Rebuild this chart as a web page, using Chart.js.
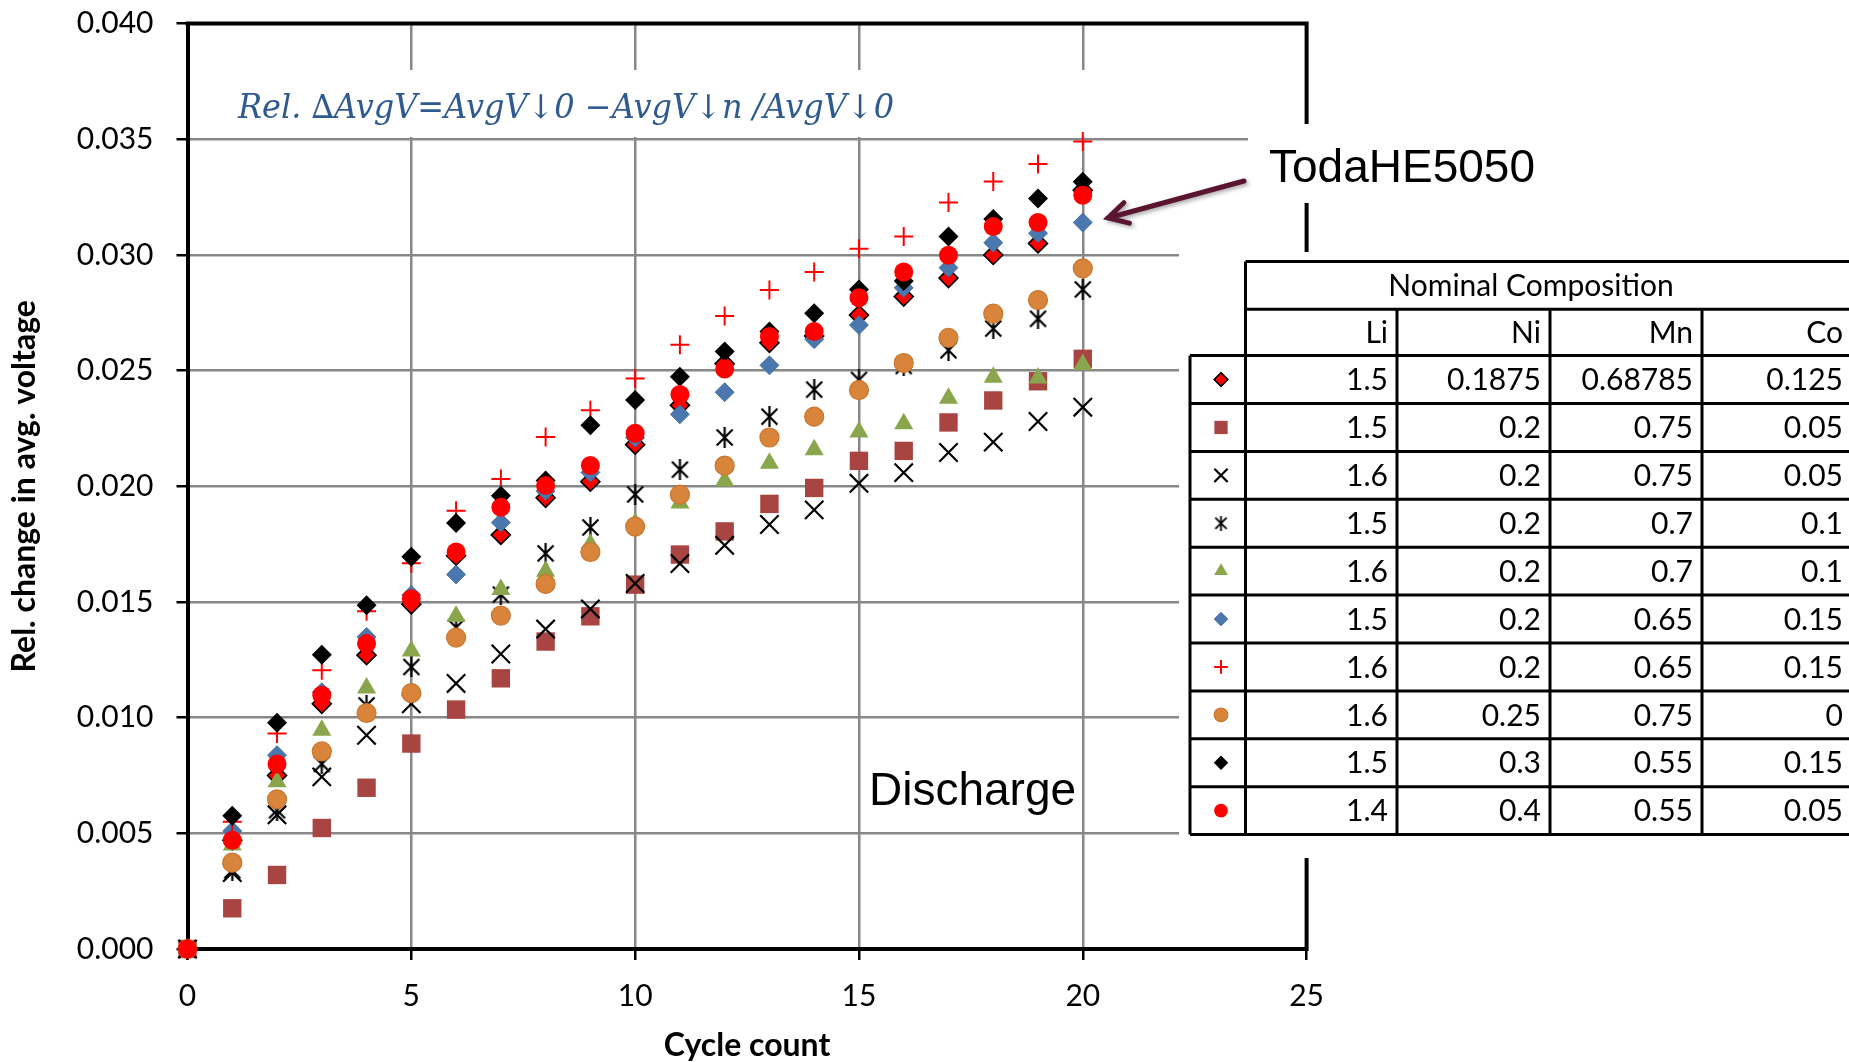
<!DOCTYPE html>
<html>
<head>
<meta charset="utf-8">
<script src="https://cdn.jsdelivr.net/npm/chart.js@4.4.1/dist/chart.umd.min.js"></script>
<style>
  html, body { margin: 0; padding: 0; background: #fff; }
  #wrap { width: 1849px; height: 1062px; }
</style>
</head>
<body>
<div id="wrap"><canvas id="chart" width="1849" height="1062"></canvas></div>
<script>
// cycle numbers (x)
const cycles = [0,1,2,3,4,5,6,7,8,9,10,11,12,13,14,15,16,17,18,19,20];

// rel. change in avg. voltage, one array per composition (table row order)
const redDiamond    = [0,0.0047,0.0075,0.0106,0.0127,0.0149,0.0170,0.0179,0.0195,0.0202,0.0218,0.0235,0.0253,0.0262,0.0265,0.0274,0.0282,0.0290,0.0300,0.0305,0.0328];
const brownSquare   = [0,0.00176,0.0032,0.00523,0.00697,0.00888,0.01035,0.0117,0.01329,0.01438,0.01575,0.01705,0.01805,0.01924,0.01993,0.0211,0.02153,0.02276,0.02371,0.02454,0.02551];
const blackX        = [0,0.0033,0.0058,0.00744,0.00924,0.0106,0.01148,0.01275,0.01383,0.0147,0.0158,0.01666,0.01745,0.01835,0.01898,0.02013,0.02059,0.02146,0.02191,0.0228,0.02342];
const blackStar     = [0,0.0034,0.0060,0.0080,0.01053,0.01219,0.0139,0.01532,0.0171,0.01822,0.01965,0.02072,0.02211,0.02301,0.02418,0.0246,0.0252,0.02588,0.02682,0.02724,0.02851];
const greenTriangle = [0,0.0045,0.00723,0.00945,0.01128,0.01288,0.01438,0.01554,0.01633,0.01749,0.0184,0.01928,0.02024,0.0210,0.02158,0.02235,0.0227,0.02381,0.02471,0.02468,0.02526];
const blueDiamond   = [0,0.0051,0.00838,0.0111,0.01349,0.0153,0.01619,0.01843,0.0198,0.0206,0.0221,0.02311,0.02407,0.02523,0.02636,0.02697,0.02858,0.02945,0.03053,0.03094,0.0314];
const redPlus       = [0,0.0055,0.00932,0.01205,0.0146,0.01667,0.01894,0.02032,0.02213,0.02329,0.02466,0.02612,0.02736,0.02848,0.02926,0.03027,0.0308,0.03227,0.03317,0.03393,0.0349];
const orangeCircle  = [0,0.00373,0.00647,0.00854,0.0102,0.01106,0.01346,0.01441,0.01578,0.01716,0.01826,0.01964,0.02089,0.02211,0.02301,0.02416,0.02533,0.02642,0.02746,0.02805,0.02942];
const blackDiamond  = [0,0.00576,0.00978,0.01272,0.01486,0.01696,0.01841,0.01959,0.02025,0.02264,0.02373,0.02473,0.02583,0.02669,0.02748,0.02851,0.02887,0.0308,0.03155,0.03244,0.03316];
const redCircle     = [0,0.0047,0.0080,0.01097,0.0132,0.01514,0.01716,0.01909,0.02003,0.0209,0.02229,0.02397,0.02507,0.02648,0.02669,0.02815,0.02926,0.02999,0.03123,0.0314,0.03258];

// nominal composition table
const liVals = ['1.5','1.5','1.6','1.5','1.6','1.5','1.6','1.6','1.5','1.4'];
const niVals = ['0.1875','0.2','0.2','0.2','0.2','0.2','0.2','0.25','0.3','0.4'];
const mnVals = ['0.68785','0.75','0.75','0.7','0.7','0.65','0.65','0.75','0.55','0.55'];
const coVals = ['0.125','0.05','0.05','0.1','0.1','0.15','0.15','0','0.15','0.05'];
const colHeads = ['Li','Ni','Mn','Co'];

const xTicks = [0,5,10,15,20,25];
const yMax = 0.04, yStep = 0.005;

// asterisk marker (x with a vertical bar), not built into Chart.js
function makeAsterisk(size, lw) {
    const c = document.createElement('canvas');
    c.width = size; c.height = size;
    const g = c.getContext('2d');
    g.strokeStyle = '#000';
    g.lineWidth = lw;
    const a = size * 0.12, b = size * 0.88;
    g.beginPath();
    g.moveTo(a, a); g.lineTo(b, b);
    g.moveTo(b, a); g.lineTo(a, b);
    g.moveTo(size / 2, 0); g.lineTo(size / 2, size);
    g.stroke();
    return c;
}
const starBig = makeAsterisk(21, 2.2);
const starSmall = makeAsterisk(15, 1.8);

const seriesData = [redDiamond, brownSquare, blackX, blackStar, greenTriangle, blueDiamond, redPlus, orangeCircle, blackDiamond, redCircle];
const markers = [
    { style: 'rectRot',  r: 9.5,  bg: '#FF0000', border: '#000',    bw: 1.6 },
    { style: 'rect',     r: 13,   bg: '#A84441', border: '#A84441', bw: 0 },
    { style: 'crossRot', r: 13,   bg: '#000',    border: '#000',    bw: 2.2 },
    { style: 'star',     r: 10.5, bg: '#000',    border: '#000',    bw: 2.2 },
    { style: 'triangle', r: 11,   bg: '#8AA64C', border: '#8AA64C', bw: 0 },
    { style: 'rectRot',  r: 9.5,  bg: '#4A78AE', border: '#3F6898', bw: 0.8 },
    { style: 'cross',    r: 9.5,  bg: '#FF0000', border: '#FF0000', bw: 2 },
    { style: 'circle',   r: 9.5,  bg: '#D9843B', border: '#C9762F', bw: 1.2 },
    { style: 'rectRot',  r: 10,   bg: '#000',    border: '#000',    bw: 0 },
    { style: 'circle',   r: 9.5,  bg: '#FF0000', border: '#FF0000', bw: 0 }
];

const datasets = seriesData.map((vals, i) => {
    const m = markers[i];
    return {
        label: liVals[i] + '/' + niVals[i] + '/' + mnVals[i] + '/' + coVals[i],
        data: vals.map((v, j) => ({ x: cycles[j], y: v })),
        pointStyle: m.style === 'star' ? starBig : m.style,
        pointRadius: m.r,
        pointBackgroundColor: m.bg,
        pointBorderColor: m.border,
        pointBorderWidth: m.bw,
        showLine: false,
        clip: false,
        order: seriesData.length - i   // later rows drawn on top, as in the original
    };
});

function drawIcon(ctx, m, x, y, k) {
    const r = m.r * k;
    ctx.save();
    ctx.fillStyle = m.bg;
    ctx.strokeStyle = m.border;
    ctx.lineWidth = m.bw;
    if (m.style === 'star') {
        ctx.drawImage(starSmall, x - 7.5, y - 7.5, 15, 15);
        ctx.restore();
        return;
    }
    ctx.beginPath();
    let fill = true;
    if (m.style === 'circle') {
        ctx.arc(x, y, r, 0, Math.PI * 2);
    } else if (m.style === 'rectRot') {
        ctx.moveTo(x - r, y); ctx.lineTo(x, y - r); ctx.lineTo(x + r, y); ctx.lineTo(x, y + r); ctx.closePath();
    } else if (m.style === 'rect') {
        const h = r * Math.SQRT1_2;
        ctx.rect(x - h, y - h, 2 * h, 2 * h);
    } else if (m.style === 'triangle') {
        ctx.moveTo(x, y - r); ctx.lineTo(x + r * 0.866, y + r / 2); ctx.lineTo(x - r * 0.866, y + r / 2); ctx.closePath();
    } else if (m.style === 'cross') {
        fill = false;
        ctx.moveTo(x - r, y); ctx.lineTo(x + r, y); ctx.moveTo(x, y - r); ctx.lineTo(x, y + r);
    } else if (m.style === 'crossRot') {
        fill = false;
        const h = r * Math.SQRT1_2;
        ctx.moveTo(x - h, y - h); ctx.lineTo(x + h, y + h); ctx.moveTo(x + h, y - h); ctx.lineTo(x - h, y + h);
    }
    if (fill) ctx.fill();
    if (m.bw > 0) ctx.stroke();
    ctx.restore();
}

const overlay = {
    id: 'overlay',
    beforeDatasetsDraw(chart) {
        const ctx = chart.ctx, a = chart.chartArea;
        ctx.save();
        // top and right frame of the plot area
        ctx.strokeStyle = '#000';
        ctx.lineWidth = 4;
        ctx.beginPath();
        ctx.moveTo(a.left - 2, a.top);
        ctx.lineTo(a.right, a.top);
        ctx.lineTo(a.right, a.bottom + 2);
        ctx.stroke();
        // white text boxes laid over the plot
        ctx.fillStyle = '#fff';
        ctx.fillRect(200, 70, 895, 67);
        ctx.fillRect(1248, 124, 601, 79);
        ctx.fillRect(1179, 252, 670, 606);
        ctx.restore();
    },
    afterDraw(chart) {
        const ctx = chart.ctx;
        ctx.save();

        // formula
        const formula = 'Rel. \u2206AvgV=AvgV\u21930 \u2212AvgV\u2193n /AvgV\u21930';
        ctx.font = 'italic 33px "DejaVu Serif"';
        ctx.fillStyle = '#2E5A8F';
        ctx.textBaseline = 'alphabetic';
        const fw = ctx.measureText(formula).width;
        ctx.save();
        ctx.translate(238, 118);
        ctx.scale(656 / fw, 1);
        ctx.fillText(formula, 0, 0);
        ctx.restore();

        // labels
        ctx.fillStyle = '#000';
        ctx.font = '46px "Liberation Sans", Arial';
        ctx.fillText('TodaHE5050', 1269, 182);
        ctx.fillText('Discharge', 869, 805);

        // arrow
        ctx.save();
        ctx.strokeStyle = '#5A1530';
        ctx.lineWidth = 5;
        ctx.lineCap = 'round';
        ctx.shadowColor = 'rgba(0,0,0,0.35)';
        ctx.shadowBlur = 4;
        ctx.shadowOffsetX = 2;
        ctx.shadowOffsetY = 2;
        const x1 = 1244, y1 = 181, x2 = 1108, y2 = 218;
        const ang = Math.atan2(y2 - y1, x2 - x1);
        ctx.beginPath();
        ctx.moveTo(x1, y1); ctx.lineTo(x2, y2);
        ctx.moveTo(x2 - 22 * Math.cos(ang - 0.5), y2 - 22 * Math.sin(ang - 0.5));
        ctx.lineTo(x2, y2);
        ctx.lineTo(x2 - 22 * Math.cos(ang + 0.5), y2 - 22 * Math.sin(ang + 0.5));
        ctx.stroke();
        ctx.restore();

        // composition table
        const top = 261.5, h1 = 309.3, h2 = 355.6, rowH = 47.9;
        const colX = [1190, 1245.5, 1397, 1550, 1702, 1852];
        const bottom = h2 + rowH * liVals.length;
        ctx.strokeStyle = '#000';
        ctx.lineWidth = 3;
        ctx.beginPath();
        ctx.moveTo(colX[1], top); ctx.lineTo(1860, top);
        ctx.moveTo(colX[1], h1); ctx.lineTo(1860, h1);
        for (let i = 0; i <= liVals.length; i++) {
            const y = h2 + rowH * i;
            ctx.moveTo(colX[0], y); ctx.lineTo(1860, y);
        }
        ctx.moveTo(colX[0], h2); ctx.lineTo(colX[0], bottom);
        ctx.moveTo(colX[1], top); ctx.lineTo(colX[1], bottom);
        for (let c = 2; c <= 5; c++) {
            ctx.moveTo(colX[c], h1); ctx.lineTo(colX[c], bottom);
        }
        ctx.stroke();

        ctx.font = '30px Lato';
        ctx.fillStyle = '#000';
        ctx.textBaseline = 'middle';
        ctx.textAlign = 'center';
        ctx.fillText('Nominal Composition', 1531, (top + h1) / 2 + 1);
        ctx.textAlign = 'right';
        colHeads.forEach((t, c) => ctx.fillText(t, colX[c + 2] - 9, (h1 + h2) / 2 + 1));
        const cols = [liVals, niVals, mnVals, coVals];
        for (let i = 0; i < liVals.length; i++) {
            const yc = h2 + rowH * (i + 0.5) + 1;
            cols.forEach((arr, c) => ctx.fillText(arr[i], colX[c + 2] - 9, yc));
            drawIcon(ctx, markers[i], 1221, yc - 1, 0.72);
        }
        ctx.restore();
    }
};

const gridColor = '#878787';

new Chart(document.getElementById('chart'), {
    type: 'scatter',
    data: { datasets: datasets },
    options: {
        responsive: false,
        animation: false,
        layout: { padding: { left: 0, right: 542.4, top: 23.6, bottom: 0 } },
        plugins: {
            legend: { display: false },
            tooltip: { enabled: false }
        },
        scales: {
            x: {
                type: 'linear',
                min: xTicks[0],
                max: xTicks[xTicks.length - 1],
                afterBuildTicks: (scale) => { scale.ticks = xTicks.map(v => ({ value: v })); },
                afterFit: (scale) => { scale.height = 113; },
                ticks: { color: '#000', font: { family: 'Lato', size: 30 }, padding: 18 },
                grid: { color: gridColor, lineWidth: 2.5, tickColor: '#000', tickLength: 11, tickWidth: 2.5 },
                border: { color: '#000', width: 4 },
                title: {
                    display: true, text: 'Cycle count', color: '#000',
                    font: { family: 'Lato', size: 32, weight: 'bold' },
                    padding: { top: 0, bottom: -3 }
                }
            },
            y: {
                min: 0,
                max: yMax,
                ticks: {
                    stepSize: yStep,
                    color: '#000',
                    font: { family: 'Lato', size: 30 },
                    padding: 23,
                    callback: (v) => v.toFixed(3)
                },
                afterFit: (scale) => {
                    scale.width = 187.5;
                    scale.paddingTop = 0;
                    scale.paddingBottom = 0;
                },
                grid: { color: gridColor, lineWidth: 2.5, tickColor: '#000', tickLength: 11, tickWidth: 2.5 },
                border: { color: '#000', width: 4 },
                title: {
                    display: true, text: 'Rel. change in avg. voltage', color: '#000',
                    font: { family: 'Lato', size: 32, weight: 'bold' },
                    padding: { top: 5, bottom: 0 }
                }
            }
        }
    },
    plugins: [overlay]
});
</script>
</body>
</html>
